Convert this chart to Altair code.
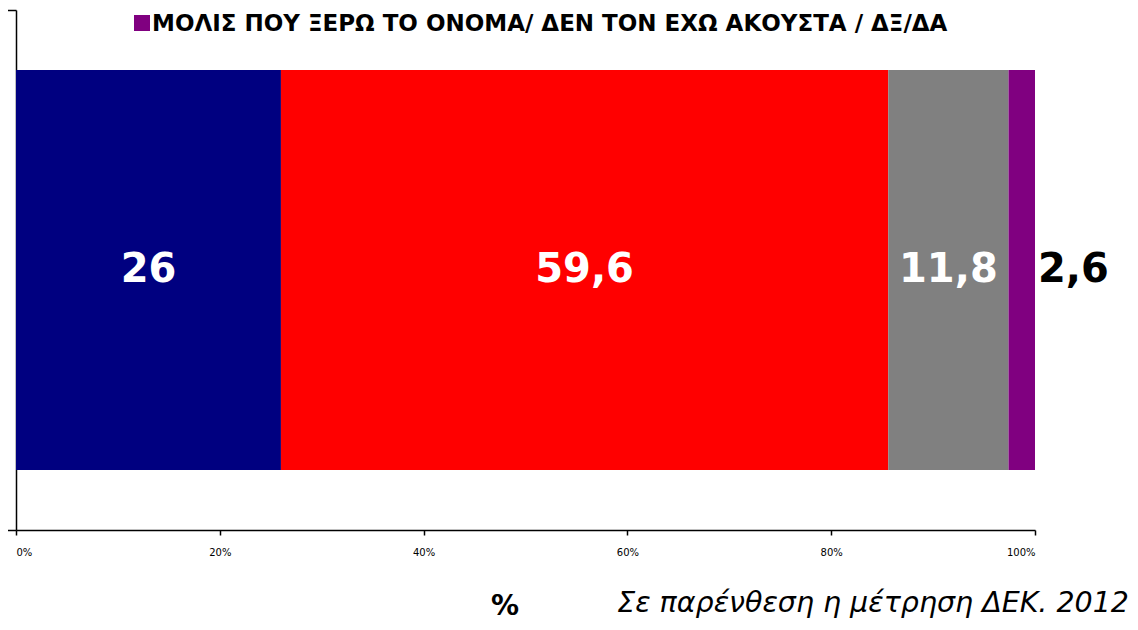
import altair as alt
import pandas as pd

# Data
series = ["ΘΕΤΙΚΗ", "ΑΡΝΗΤΙΚΗ", "ΟΥΤΕ ΘΕΤΙΚΗ / ΟΥΤΕ ΑΡΝΗΤΙΚΗ",
          "ΜΟΛΙΣ ΠΟΥ ΞΕΡΩ ΤΟ ΟΝΟΜΑ/ ΔΕΝ ΤΟΝ ΕΧΩ ΑΚΟΥΣΤΑ / ΔΞ/ΔΑ"]
values = [26, 59.6, 11.8, 2.6]
labels = ["26", "59,6", "11,8", "2,6"]
colors = ["#000080", "#FF0000", "#808080", "#800080"]
x_ticks = [0, 20, 40, 60, 80, 100]
legend_label = series[3]
note = "Σε παρένθεση η μέτρηση ΔΕΚ. 2012"
axis_title = "%"

df = pd.DataFrame({
    "series": series,
    "value": values,
    "label": labels,
    "order": list(range(1, len(series) + 1)),
    "row": ["Α"] * len(series),
})

W, H = 1019, 520

base = alt.Chart(df).transform_window(
    cum="sum(value)", sort=[alt.SortField("order")], frame=[None, 0]
).transform_calculate(
    start="datum.cum - datum.value", mid="datum.cum - datum.value / 2"
)

yband = alt.Y("row:N", scale=alt.Scale(paddingOuter=0.15, paddingInner=0), axis=None)

bars = base.mark_bar().encode(
    x=alt.X("start:Q", scale=alt.Scale(domain=[0, 100], nice=False),
            axis=alt.Axis(values=x_ticks, labelExpr="datum.value + '%'", title=None,
                          grid=False, tickSize=5, labelPadding=12, labelFontSize=10,
                          labelFont="DejaVu Sans", labelColor="black",
                          domainColor="black", domainWidth=1.5, tickColor="black",
                          tickWidth=1.5)),
    x2="cum:Q",
    y=yband,
    color=alt.Color("series:N", scale=alt.Scale(domain=series, range=colors), legend=None),
)

inner = base.transform_filter("datum.order < 4").mark_text(
    font="DejaVu Sans", fontWeight="bold", fontSize=40, color="white",
    align="center", baseline="middle"
).encode(x="mid:Q", y=yband, text="label:N")

outer = base.transform_filter("datum.order == 4").mark_text(
    font="DejaVu Sans", fontWeight="bold", fontSize=40, color="black",
    align="left", baseline="middle", dx=3
).encode(x="cum:Q", y=yband, text="label:N")

yaxis = alt.Chart(df).transform_calculate(yy="0").mark_point(opacity=0).encode(
    y=alt.Y("yy:Q", scale=alt.Scale(domain=[0, 1]),
            axis=alt.Axis(values=[0, 1], labels=False, tickSize=11, title=None, grid=False,
                          orient="left", domainColor="black", domainWidth=1.5,
                          tickColor="black", tickWidth=1.5))
)

leg_df = pd.DataFrame({"t": [legend_label], "c": [colors[3]]})
leg_sq = alt.Chart(leg_df).mark_square(size=256, color=colors[3], opacity=1).encode(
    x=alt.value(126), y=alt.value(13))
leg_tx = alt.Chart(leg_df).mark_text(
    font="DejaVu Sans", fontWeight="bold", fontSize=23, align="left",
    baseline="alphabetic", color="black"
).encode(x=alt.value(136), y=alt.value(21), text="t:N")

note_tx = alt.Chart(pd.DataFrame({"t": [note]})).mark_text(
    font="DejaVu Sans", fontStyle="italic", fontSize=28.5, align="right",
    baseline="alphabetic", color="black"
).encode(x=alt.value(1113), y=alt.value(602), text="t:N")

pct_tx = alt.Chart(pd.DataFrame({"t": [axis_title]})).mark_text(
    font="DejaVu Sans", fontWeight="bold", fontSize=28, align="center",
    baseline="middle", color="black"
).encode(x=alt.value(489), y=alt.value(597), text="t:N")

chart = alt.layer(yaxis, bars, inner, outer, leg_sq, leg_tx, note_tx, pct_tx).resolve_scale(
    y="independent"
).properties(
    width=W, height=H,
    autosize=alt.AutoSizeParams(type="none"),
    padding={"left": 8, "top": 2, "right": 95, "bottom": 92},
).configure_view(stroke=None)

chart.save("out.html", embed_options={"renderer": "svg", "actions": False})
